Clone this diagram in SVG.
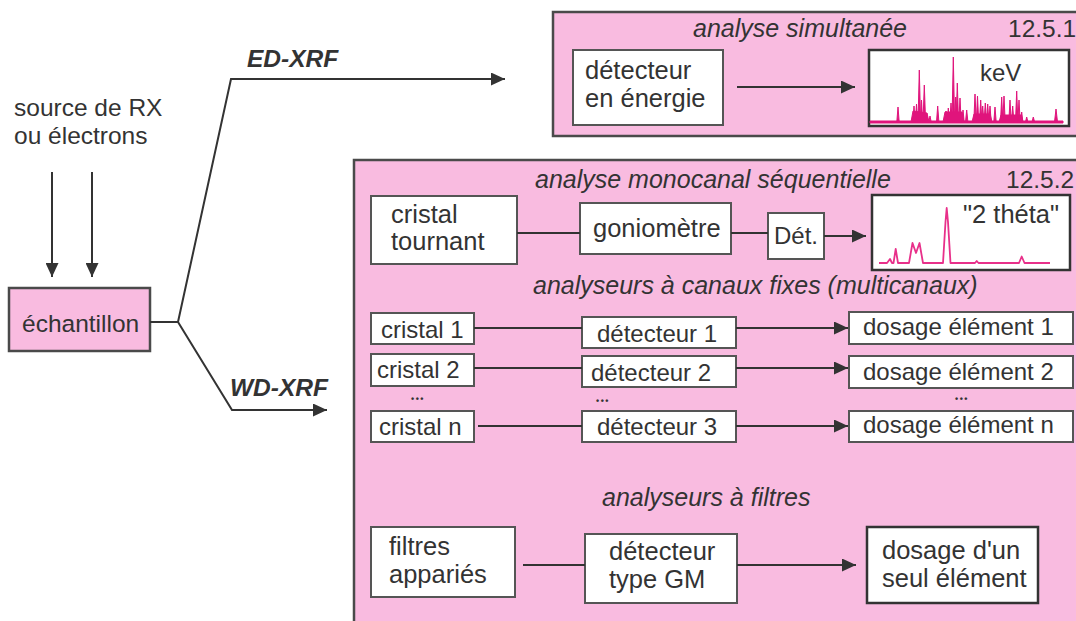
<svg xmlns="http://www.w3.org/2000/svg" width="1076" height="621" viewBox="0 0 1076 621">
<style>
text{font-family:"Liberation Sans",Arial,sans-serif;fill:#333;font-size:24px}
.m{font-size:25.5px}
.s{font-size:24.5px}
.h{font-style:italic;font-size:25px}
.b{font-weight:bold;font-style:italic;font-size:24.5px}
.panel{fill:#f9bbe0;stroke:#4a4a4a;stroke-width:2.5}
.box{fill:#fff;stroke:#555;stroke-width:2}
.sbox{fill:#fff;stroke:#333;stroke-width:2.5}
.ln{fill:none;stroke:#333;stroke-width:2}
.dots{font-size:9px;font-weight:bold;letter-spacing:1.5px}
</style>
<defs>
<marker id="ah" markerUnits="userSpaceOnUse" markerWidth="15" markerHeight="13" refX="14" refY="6.5" orient="auto">
<path d="M0,0 L14,6.5 L0,13 z" fill="#333"/>
</marker>
</defs>
<rect width="1076" height="621" fill="#fff"/>

<g id="source">
<text class="s" x="14" y="116">source de RX</text>
<text class="s" x="14" y="144">ou électrons</text>
</g>

<g id="panel-ed">
<rect class="panel" x="553" y="12" width="530" height="124"/>
<text class="h" x="693" y="37">analyse simultanée</text>
<text class="s" x="1008" y="37">12.5.1</text>
</g>

<g id="panel-wd">
<rect class="panel" x="354" y="160" width="730" height="470"/>
<text class="h" x="535" y="188">analyse monocanal séquentielle</text>
<text class="s" x="1006" y="188">12.5.2</text>
<text class="h" x="533" y="294">analyseurs à canaux fixes (multicanaux)</text>
<text class="h" x="602" y="506">analyseurs à filtres</text>
</g>

<g id="echantillon">
<rect x="9" y="288" width="141" height="63" fill="#f9bbe0" stroke="#4a4a4a" stroke-width="2.5"/>
<text class="s" x="22" y="332">échantillon</text>
</g>

<g id="det-energie">
<rect class="box" x="573" y="50" width="150" height="75"/>
<text class="m" x="585" y="79">détecteur</text>
<text class="m" x="585" y="107">en énergie</text>
</g>

<g id="spectre-kev">
<rect class="sbox" x="869" y="50" width="200" height="76"/>
<path fill="#e0147c" stroke="#e0147c" stroke-width="1" stroke-linejoin="round" d="M870,121 L1063,121 L1063,123 L870,123 z
M896.8,122 L898,107 L899.2,122 z
M911,122 L913,111 L927,113 L929,122 z
M913,122 L914,106 L915,122 z M915.4,122 L916.5,104 L917.6,122 z M918,122 L919.3,70 L920.6,122 z M920.5,122 L921.5,100 L922.7,122 z M923,122 L924.3,85 L925.6,122 z M925.5,122 L926.7,113 L928,122 z
M928.8,122 L930,116 L931.2,122 z M936.5,122 L937.7,106 L938.9,122 z
M943,122 L945,112 L962,112 L964,122 z
M944.8,122 L946,111 L947.2,122 z M947.2,122 L948.3,108 L949.5,122 z M949.8,122 L951,103 L952.2,122 z M952,122 L953.3,57 L954.6,122 z M954.5,122 L955.7,97 L956.9,122 z M956.1,122 L957.3,83 L958.5,122 z M958.8,122 L960,98 L961.2,122 z M961.8,122 L963,110 L964.2,122 z
M965.5,122 L966.7,110 L967.9,122 z
M972,122 L974,114 L990,114 L992,122 z
M973.8,122 L975,94 L976.2,122 z M976.3,122 L977.5,96 L978.7,122 z M979.5,122 L980.7,100 L981.9,122 z M981.5,122 L982.7,106 L983.9,122 z M984.1,122 L985.3,103 L986.5,122 z M986.5,122 L987.7,104 L988.9,122 z M988.8,122 L990,106 L991.2,122 z
M993.8,122 L995,107 L996.2,122 z
M999,122 L1001,115 L1021,115 L1023,122 z
M1000.5,122 L1001.7,97 L1002.9,122 z M1002.8,122 L1004,96 L1005.2,122 z M1008.8,122 L1010,100 L1011.2,122 z M1011.5,122 L1012.7,106 L1013.9,122 z M1015.5,122 L1016.7,91 L1017.9,122 z M1017.8,122 L1019,100 L1020.2,122 z M1020.5,122 L1021.7,112 L1022.9,122 z
M1025.5,122 L1026.7,117 L1027.9,122 z M1032,122 L1033.3,117 L1034.6,122 z
M1054.5,122 L1056,109 L1057.5,122 z"/>
<text x="980" y="81">keV</text>
</g>

<g id="cristal-tournant">
<rect class="box" x="371" y="196" width="146" height="68"/>
<text class="m" x="391" y="223">cristal</text>
<text class="m" x="391" y="250">tournant</text>
</g>

<g id="goniometre">
<rect class="box" x="580" y="203" width="151" height="51"/>
<text class="m" x="593" y="237">goniomètre</text>
</g>

<g id="det">
<rect class="box" x="768" y="213" width="56" height="46"/>
<text x="774" y="244">Dét.</text>
</g>

<g id="spectre-theta">
<rect class="sbox" x="872" y="195" width="198" height="75"/>
<polyline fill="none" stroke="#e8308a" stroke-width="1.8" stroke-linejoin="round" points="879,263 887,263 890,259 892,263 893.5,263 895.7,249 898,263 909,263 912.5,243 916,253 919.5,243 923,263 943,263 945.5,222 946.7,208 948,222 950.5,263 975,263 976.7,261 978.5,263 1019,263 1021.7,256.5 1024.5,263 1050,263"/>
<text class="m" x="963" y="223">"2 théta"</text>
</g>

<g id="cristal-1">
<rect class="box" x="371" y="313" width="103" height="31"/>
<text x="381" y="338">cristal 1</text>
</g>
<g id="detecteur-1">
<rect class="box" x="582" y="317" width="154" height="31"/>
<text x="597" y="342">détecteur 1</text>
</g>
<g id="dosage-1">
<rect class="box" x="849" y="312" width="224" height="32"/>
<text x="863" y="335">dosage élément 1</text>
</g>

<g id="cristal-2">
<rect class="box" x="371" y="354" width="103" height="32"/>
<text x="377" y="378">cristal 2</text>
</g>
<g id="detecteur-2">
<rect class="box" x="582" y="356" width="154" height="31"/>
<text x="591" y="381">détecteur 2</text>
</g>
<g id="dosage-2">
<rect class="box" x="849" y="356" width="224" height="32"/>
<text x="863" y="380">dosage élément 2</text>
</g>

<g id="ellipses">
<text class="dots" x="411" y="402">•••</text>
<text class="dots" x="596" y="404">•••</text>
<text class="dots" x="955" y="402">•••</text>
</g>

<g id="cristal-n">
<rect class="box" x="371" y="411" width="103" height="31"/>
<text x="379" y="435">cristal n</text>
</g>
<g id="detecteur-3">
<rect class="box" x="582" y="411" width="154" height="31"/>
<text x="597" y="435">détecteur 3</text>
</g>
<g id="dosage-n">
<rect class="box" x="849" y="411" width="224" height="31"/>
<text x="863" y="433">dosage élément n</text>
</g>

<g id="filtres">
<rect class="box" x="371" y="527" width="144" height="70"/>
<text class="m" x="389" y="555">filtres</text>
<text class="m" x="389" y="583">appariés</text>
</g>
<g id="detecteur-gm">
<rect class="box" x="585" y="534" width="152" height="69"/>
<text class="m" x="609" y="560">détecteur</text>
<text class="m" x="609" y="588">type GM</text>
</g>
<g id="dosage-un">
<rect class="sbox" x="867" y="527" width="171" height="76"/>
<text class="m" x="882" y="559">dosage d'un</text>
<text class="m" x="882" y="587">seul élément</text>
</g>

<g id="labels">
<text class="b" x="247" y="67">ED-XRF</text>
<text class="b" x="230" y="396">WD-XRF</text>
</g>

<g id="connectors">
<line class="ln" x1="52" y1="172" x2="52" y2="277" marker-end="url(#ah)"/>
<line class="ln" x1="92" y1="172" x2="92" y2="277" marker-end="url(#ah)"/>
<polyline class="ln" points="150,322 178,322 231,79 505,79" marker-end="url(#ah)"/>
<polyline class="ln" points="178,322 232,410 327,410" marker-end="url(#ah)"/>
<line class="ln" x1="737" y1="87" x2="855" y2="87" marker-end="url(#ah)"/>
<line class="ln" x1="517" y1="233" x2="580" y2="233"/>
<line class="ln" x1="731" y1="233" x2="768" y2="233"/>
<line class="ln" x1="824" y1="236" x2="866" y2="236" marker-end="url(#ah)"/>
<line class="ln" x1="474" y1="328" x2="582" y2="328"/>
<line class="ln" x1="736" y1="328" x2="848" y2="328" marker-end="url(#ah)"/>
<line class="ln" x1="474" y1="368" x2="582" y2="368"/>
<line class="ln" x1="736" y1="368" x2="848" y2="368" marker-end="url(#ah)"/>
<line class="ln" x1="478" y1="426" x2="582" y2="426"/>
<line class="ln" x1="736" y1="426" x2="848" y2="426" marker-end="url(#ah)"/>
<line class="ln" x1="523" y1="565" x2="585" y2="565"/>
<line class="ln" x1="737" y1="565" x2="856" y2="565" marker-end="url(#ah)"/>
</g>
</svg>
